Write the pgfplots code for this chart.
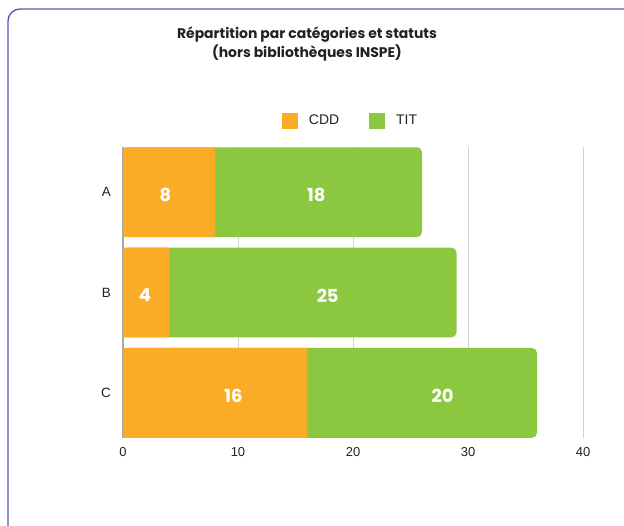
\documentclass[border=0pt]{standalone}
\usepackage{fontspec}
\setmainfont{Liberation Sans}
\newfontfamily\titlefont{Poppins}
\usepackage{pgfplots}
\pgfplotsset{compat=1.18}
\usepackage{pgfplotstable}

\definecolor{cdd}{HTML}{FAAC26}
\definecolor{tit}{HTML}{8CC740}
\definecolor{cadre}{HTML}{5357B8}
\definecolor{grille}{HTML}{D3D3D3}
\definecolor{texte}{HTML}{222222}

% effectifs par categorie (A, B, C de haut en bas)
\pgfplotstableread{
y CDD TIT
0 8  18
1 4  25
2 16 20
}\effectifs

% positions des etiquettes dans les barres
\pgfplotstableread{
x    y lab
3.7  0 8
16.8 0 18
1.9  1 4
17.8 1 25
9.6  2 16
27.8 2 20
}\etiquettes

\begin{document}
\begin{tikzpicture}
\useasboundingbox (0,0) rectangle (624bp,526bp);
\fill[white] (0,0) rectangle (624bp,526bp);
\draw[cadre, line width=1.3bp, rounded corners=12bp] (8bp,-20bp) -- (8bp,517bp) -- (650bp,517bp);

\node[font=\titlefont\bfseries\fontsize{14}{19}\selectfont, align=center, text=texte]
  at (307bp,481.5bp) {Répartition par catégories et statuts\\(hors bibliothèques INSPE)};

\begin{axis}[
    at={(123bp,88bp)}, anchor=south west,
    scale only axis, width=460bp, height=291bp,
    xmin=0, xmax=40, ymin=-0.45, ymax=2.45,
    y dir=reverse,
    axis line style={draw=none},
    tick style={draw=none},
    xtick={0,10,20,30,40},
    ytick={0,1,2}, yticklabels={A,B,C},
    xmajorgrids, grid style={grille, line width=0.9bp},
    extra x ticks={0}, extra x tick labels={},
    extra x tick style={grid style={black!35, line width=1.1bp}},
    /pgf/number format/assume math mode=true,
    xticklabel style={anchor=center, yshift=-14bp, text=texte,
        font=\fontsize{13}{15}\selectfont},
    yticklabel style={anchor=east, inner sep=0pt, xshift=-12bp, text=texte,
        font=\fontsize{13.5}{15}\selectfont},
    legend image code/.code={\fill[#1] (0bp,-8bp) rectangle (16bp,8bp);},
    legend columns=2,
    legend style={draw=none, fill=none, at={(0.4924,1.091)}, anchor=center,
        font=\fontsize{14}{16}\selectfont, text=texte,
        nodes={inner sep=0pt},
        /tikz/every odd column/.append style={column sep=11bp},
        /tikz/every even column/.append style={column sep=30bp}},
]
  % barre totale (TIT) avec extremite arrondie, puis CDD par-dessus
  \addplot[xbar, bar shift=0pt, bar width=0.895, fill=tit, draw=none,
      rounded corners=5bp, forget plot]
      table[x expr=\thisrow{CDD}+\thisrow{TIT}, y=y] {\effectifs};
  \addplot[xbar, bar shift=0pt, bar width=0.895, fill=cdd, draw=none, forget plot]
      table[x=CDD, y=y] {\effectifs};

  \addplot[draw=none, mark=none, forget plot, nodes near coords,
      point meta=explicit symbolic,
      nodes near coords style={anchor=center, yshift=-3bp, text=white,
          font=\titlefont\bfseries\fontsize{18}{20}\selectfont}]
      table[x=x, y=y, meta=lab] {\etiquettes};

  \addlegendimage{fill=cdd, draw=none}
  \addlegendentry{CDD}
  \addlegendimage{fill=tit, draw=none}
  \addlegendentry{TIT}
\end{axis}
\end{tikzpicture}
\end{document}
